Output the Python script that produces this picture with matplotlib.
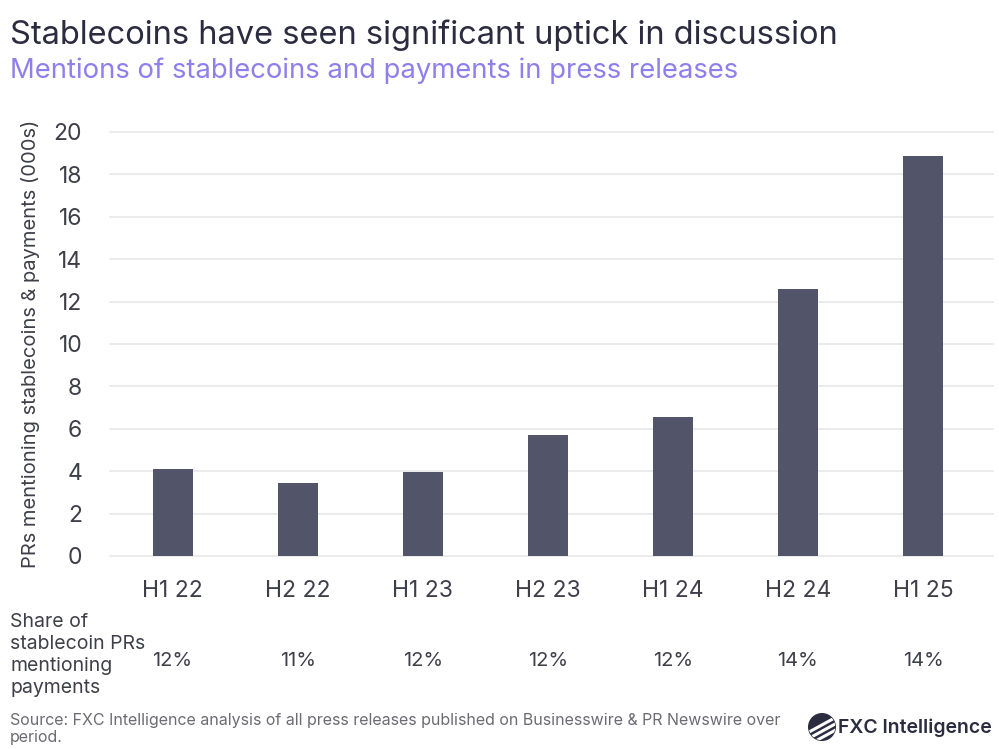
import matplotlib
matplotlib.use("Agg")
import matplotlib.pyplot as plt
from matplotlib.patches import Circle
from matplotlib.transforms import blended_transform_factory
import numpy as np

categories = ["H1 22", "H2 22", "H1 23", "H2 23", "H1 24", "H2 24", "H1 25"]
values = [4.11, 3.46, 3.98, 5.73, 6.58, 12.6, 18.87]
shares = ["12%", "11%", "12%", "12%", "12%", "14%", "14%"]
yticks = [0, 2, 4, 6, 8, 10, 12, 14, 16, 18, 20]

plt.rcParams['font.family'] = ['Inter', 'DejaVu Sans']

W, H = 999, 749
fig = plt.figure(figsize=(W / 100, H / 100), dpi=100)
fig.patch.set_facecolor('white')

def fx(px):
    return px / W

def fy(py):
    return 1 - py / H

ax = fig.add_axes([fx(110), fy(556), fx(993) - fx(110), fy(132) - fy(556)])
x = np.arange(len(categories))
ax.bar(x, values, width=0.32, color='#525469', zorder=3)
ax.set_xlim(-0.5, 6.56)
ax.set_ylim(0, 20)
ax.set_yticks(yticks)
ax.set_yticklabels([str(t) for t in yticks])
ax.set_xticks(x)
ax.set_xticklabels(categories)
ax.grid(axis='y', color='#e8e8e8', linewidth=1.2, zorder=0)
for gl in ax.get_ygridlines():
    gl.set_clip_on(False)
for s in ax.spines.values():
    s.set_visible(False)
ax.tick_params(axis='both', length=0, colors='#3f3f4a', labelsize=16.5)
ax.tick_params(axis='y', pad=20)
ax.tick_params(axis='x', pad=17)
ax.set_ylabel("PRs mentioning stablecoins & payments (000s)", fontsize=14.5,
              color='#3f3f4a', labelpad=10)

fig.text(fx(10), fy(35), "Stablecoins have seen significant uptick in discussion",
         fontsize=23.5, color='#2b2c40', va='center', ha='left')
fig.text(fx(10), fy(71), "Mentions of stablecoins and payments in press releases",
         fontsize=19.75, color='#8f7fec', va='center', ha='left')

fig.text(fx(10), fy(655), "Share of\nstablecoin PRs\nmentioning\npayments",
         fontsize=14, color='#3f3f4a', va='center', ha='left', linespacing=1.28)
tr = blended_transform_factory(ax.transData, fig.transFigure)
for i, s in enumerate(shares):
    ax.text(x[i], fy(661), s, transform=tr,
            fontsize=14.5, color='#3f3f4a', ha='center', va='center')

fig.text(fx(10), fy(729), "Source: FXC Intelligence analysis of all press releases published on Businesswire & PR Newswire over\nperiod.",
         fontsize=11.5, color='#6b6b73', va='center', ha='left', linespacing=1.15)

# logo
lax = fig.add_axes([fx(808), fy(741), fx(836) - fx(808), fy(713) - fy(741)])
lax.set_xlim(-1, 1)
lax.set_ylim(-1, 1)
lax.set_aspect('equal')
lax.axis('off')
circ = Circle((0, 0), 0.95, color='#2b2c40')
lax.add_patch(circ)
xs = np.linspace(-1, 1, 50)
for off in [-0.55, -0.1, 0.35]:
    ln, = lax.plot(xs, 0.55 * xs + off - 0.2, color='white', linewidth=2.2)
    ln.set_clip_path(circ)
fig.text(fx(838), fy(728), "FXC Intelligence", fontsize=14, fontweight='semibold',
         color='#2b2c40', va='center', ha='left')

fig.savefig("out.png", dpi=100, facecolor='white')
